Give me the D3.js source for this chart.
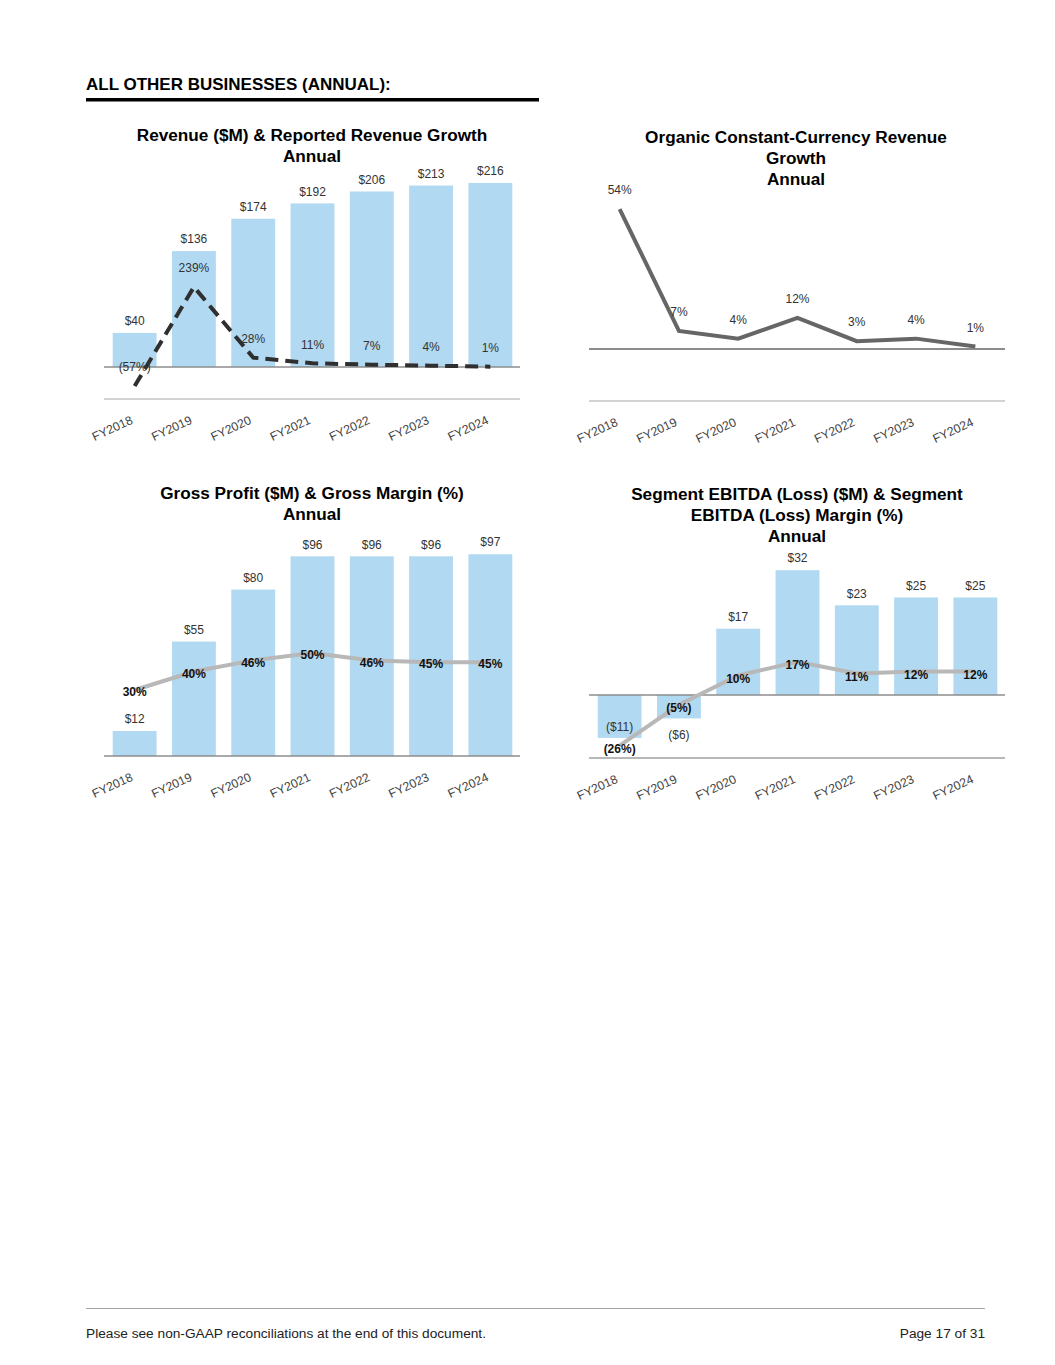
<!DOCTYPE html>
<html>
<head>
<meta charset="utf-8">
<script src="https://cdn.jsdelivr.net/npm/d3@7"></script>
<style>
  body { margin: 0; background: #fff; }
  svg { display: block; font-family: "Liberation Sans", Arial, sans-serif; }
  .title { font-weight: bold; font-size: 17.2px; fill: #000; text-anchor: middle; }
  .val { font-size: 12px; fill: #333; text-anchor: middle; }
  .bold { font-weight: bold; fill: #111; }
  .tick text { font-size: 12.3px; fill: #444; }
</style>
</head>
<body>
<div id="viz-container"></div>
<script>
// DATA
const years = ["FY2018", "FY2019", "FY2020", "FY2021", "FY2022", "FY2023", "FY2024"];
const revenue = [40, 136, 174, 192, 206, 213, 216];
const revenueGrowth = [-57, 239, 28, 11, 7, 4, 1];
const organicGrowth = [54, 7, 4, 12, 3, 4, 1];
const grossProfit = [12, 55, 80, 96, 96, 96, 97];
const grossMargin = [30, 40, 46, 50, 46, 45, 45];
const segmentEbitda = [-11, -6, 17, 32, 23, 25, 25];
const ebitdaMargin = [-26, -5, 10, 17, 11, 12, 12];

const titles = {
  revenue: ["Revenue ($M) & Reported Revenue Growth", "Annual"],
  organic: ["Organic Constant-Currency Revenue", "Growth", "Annual"],
  gross: ["Gross Profit ($M) & Gross Margin (%)", "Annual"],
  ebitda: ["Segment EBITDA (Loss) ($M) & Segment", "EBITDA (Loss) Margin (%)", "Annual"]
};

// CONSTANTS
const WIDTH = 1055;
const HEIGHT = 1365;
const BAR_COLOR = "#b1d9f1";
const LEFT = [105, 520];
const RIGHT = [590, 1005];

const money = v => v < 0 ? `($${-v})` : `$${v}`;
const pct = v => v < 0 ? `(${-v}%)` : `${v}%`;

const svg = d3.select("#viz-container")
  .append("svg")
  .attr("width", WIDTH)
  .attr("height", HEIGHT);

// header + footer
svg.append("text")
  .attr("x", 86).attr("y", 90)
  .style("font-weight", "bold").style("font-size", "17px")
  .text("ALL OTHER BUSINESSES (ANNUAL):");
svg.append("rect").attr("x", 86).attr("y", 98).attr("width", 453).attr("height", 3.5).attr("fill", "#000");

svg.append("line")
  .attr("x1", 86).attr("x2", 985).attr("y1", 1308.5).attr("y2", 1308.5)
  .attr("stroke", "#a6a6a6");
svg.append("text")
  .attr("x", 86).attr("y", 1338)
  .style("font-size", "13.7px").attr("fill", "#222")
  .text("Please see non-GAAP reconciliations at the end of this document.");
svg.append("text")
  .attr("x", 985).attr("y", 1338).attr("text-anchor", "end")
  .style("font-size", "13.7px").attr("fill", "#222")
  .text("Page 17 of 31");

const drawTitle = (lines, cx, y0) => {
  svg.append("g").selectAll("text")
    .data(lines)
    .join("text")
    .attr("class", "title")
    .attr("x", cx)
    .attr("y", (_, i) => y0 + i * 21)
    .text(d => d);
};

const hLine = (range, y, color, w) => {
  svg.append("line")
    .attr("x1", range[0] - 1).attr("x2", range[1])
    .attr("y1", y).attr("y2", y)
    .attr("stroke", color).attr("stroke-width", w);
};

const drawXAxis = (x, y) => {
  const g = svg.append("g")
    .attr("transform", `translate(0,${y})`)
    .call(d3.axisBottom(x).tickSize(0));
  g.select(".domain").remove();
  g.selectAll(".tick text")
    .attr("x", 0).attr("y", 0).attr("dy", 0)
    .attr("text-anchor", "end")
    .attr("transform", "translate(-1,24) rotate(-25)");
};

const drawBars = (x, y, values) => {
  svg.append("g").selectAll("rect")
    .data(values)
    .join("rect")
    .attr("x", (_, i) => x(years[i]))
    .attr("width", x.bandwidth())
    .attr("y", d => Math.min(y(d), y(0)))
    .attr("height", d => Math.abs(y(d) - y(0)))
    .attr("fill", BAR_COLOR);
};

const drawLine = (x, y, values, color, dash) => {
  svg.append("path")
    .datum(values)
    .attr("d", d3.line()
      .x((_, i) => x(years[i]) + x.bandwidth() / 2)
      .y(d => y(d)))
    .attr("fill", "none")
    .attr("stroke", color)
    .attr("stroke-width", 4)
    .attr("stroke-dasharray", dash || null);
};

const drawLabels = (x, values, yPos, fmt, cls) => {
  svg.append("g").selectAll("text")
    .data(values)
    .join("text")
    .attr("class", cls)
    .attr("x", (_, i) => x(years[i]) + x.bandwidth() / 2)
    .attr("y", (d, i) => yPos(d, i))
    .attr("dy", "0.35em")
    .text(d => fmt(d));
};

const band = range => d3.scaleBand()
  .domain(years)
  .range(range)
  .paddingInner(0.26)
  .paddingOuter(0.13);

// CHART 1: revenue & reported growth
(() => {
  const x = band(LEFT);
  const y = d3.scaleLinear().domain([0, 250]).range([367, 154]);
  const yG = d3.scaleLinear().domain([-100, 300]).range([400.5, 266.5]);
  drawTitle(titles.revenue, 312, 141);
  drawBars(x, y, revenue);
  hLine(LEFT, 367, "#8c8c8c", 1.5);
  hLine(LEFT, 399, "#c4c4c4", 1.5);
  drawLabels(x, revenue, d => y(d) - 12, money, "val");
  drawLine(x, yG, revenueGrowth, "#2f2f2f", "13,7");
  drawLabels(x, revenueGrowth, d => yG(d) - 19, pct, "val");
  drawXAxis(x, 399);
})();

// CHART 2: organic constant-currency growth
(() => {
  const x = band(RIGHT);
  const y = d3.scaleLinear().domain([-20, 60]).range([400.8, 193.6]);
  drawTitle(titles.organic, 796, 143);
  hLine(RIGHT, y(0), "#8c8c8c", 2);
  hLine(RIGHT, 401, "#c4c4c4", 1.5);
  drawLine(x, y, organicGrowth, "#666666");
  drawLabels(x, organicGrowth, d => y(d) - 19, pct, "val");
  drawXAxis(x, 401);
})();

// CHART 3: gross profit & gross margin
(() => {
  const x = band(LEFT);
  const y = d3.scaleLinear().domain([0, 100]).range([756, 548]);
  const yM = d3.scaleLinear().domain([0, 100]).range([745.5, 560.5]);
  drawTitle(titles.gross, 312, 499);
  drawBars(x, y, grossProfit);
  hLine(LEFT, 756, "#8c8c8c", 1.5);
  drawLabels(x, grossProfit, d => y(d) - 12, money, "val");
  drawLine(x, yM, grossMargin, "#b8b8b8");
  drawLabels(x, grossMargin, d => yM(d) + 2, pct, "val bold");
  drawXAxis(x, 756);
})();

// CHART 4: segment EBITDA & margin
(() => {
  const x = band(RIGHT);
  const y = d3.scaleLinear().domain([-15, 35]).range([753.5, 558.5]);
  const yM = d3.scaleLinear().domain([-30, 20]).range([753.5, 656]);
  drawTitle(titles.ebitda, 797, 500);
  drawBars(x, y, segmentEbitda);
  hLine(RIGHT, y(0), "#8c8c8c", 1.5);
  hLine(RIGHT, 758, "#a0a0a0", 1.5);
  // negative labels go under the bar, or inside when the margin label sits there
  drawLabels(x, segmentEbitda, (d, i) => {
    if (d >= 0) return y(d) - 12;
    const below = y(d) + 16;
    return Math.abs(below - yM(ebitdaMargin[i])) < 14 ? y(d) - 11 : below;
  }, money, "val");
  drawLine(x, yM, ebitdaMargin, "#b8b8b8");
  drawLabels(x, ebitdaMargin, d => yM(d) + 3, pct, "val bold");
  drawXAxis(x, 758);
})();
</script>
</body>
</html>
